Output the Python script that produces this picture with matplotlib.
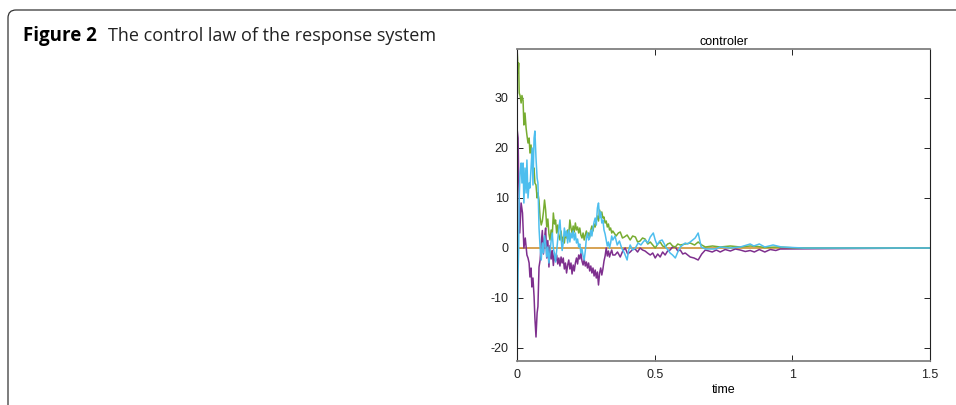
import matplotlib.pyplot as plt
from matplotlib.patches import FancyBboxPatch
from matplotlib.transforms import IdentityTransform

plt.rcParams['axes.unicode_minus'] = False

# zero lines (first three states overlap at 0)
t_zero = [0.0, 1.5]
u_zero = [0.0, 0.0]

# shared time grid for the noisy middle part
t_mid = [0.080, 0.084, 0.088, 0.092, 0.096, 0.100, 0.104, 0.108, 0.112, 0.116,
         0.120, 0.124, 0.128, 0.132, 0.136, 0.140, 0.144, 0.148, 0.152, 0.156,
         0.160, 0.164, 0.168, 0.172, 0.176, 0.180, 0.184, 0.188, 0.192, 0.196,
         0.200, 0.204, 0.208, 0.212, 0.216, 0.220, 0.224, 0.228, 0.232, 0.236,
         0.240, 0.244, 0.248, 0.252, 0.256, 0.260, 0.264, 0.268, 0.272, 0.276,
         0.280, 0.284, 0.288, 0.292, 0.296, 0.300, 0.304, 0.308, 0.312, 0.316,
         0.320, 0.324, 0.328, 0.332, 0.336, 0.340, 0.344, 0.348]

# purple controller
t_p_early = [0.000, 0.004, 0.006, 0.008, 0.010, 0.015, 0.020, 0.025, 0.030, 0.036,
             0.040, 0.044, 0.047, 0.051, 0.054, 0.058, 0.062, 0.065, 0.069, 0.073,
             0.076]
u_p_early = [24.0, 22.0, 14.0, 10.0, 3.0, 9.0, 7.0, 0.0, 2.0, -1.4,
             -2.0, -3.0, -5.8, -4.0, -7.8, -6.0, -9.7, -14.0, -17.8, -13.0,
             -11.7]
u_p_mid = [-3.8, -2.4, 1.0, 3.5, -1.2, 2.0, 4.0, -2.0, 1.5, -3.8,
           0.5, -2.2, -0.5, -3.5, -1.0, -2.6, -1.4, -3.2, -2.0, -3.6,
           -1.8, -3.0, -2.0, -4.2, -3.0, -5.0, -3.4, -2.4, -4.2, -3.0,
           -5.2, -3.4, -4.6, -3.0, -2.0, -3.2, -1.4, -2.2, -1.0, -2.6,
           -3.4, -2.2, -3.6, -2.8, -4.0, -3.0, -4.6, -3.6, -5.0, -4.0,
           -5.6, -4.4, -6.0, -4.8, -7.4, -5.0, -4.0, -5.4, -4.2, -2.6,
           -1.6, 0.0, -1.6, -0.6, -1.8, -1.0, -0.4, -1.4]
t_p_late = [0.356, 0.365, 0.375, 0.384, 0.393, 0.402, 0.411, 0.420, 0.429, 0.438,
            0.447, 0.456, 0.465, 0.474, 0.484, 0.493, 0.502, 0.511, 0.520, 0.529,
            0.538, 0.547, 0.556, 0.565, 0.575, 0.584, 0.593, 0.602, 0.611, 0.620,
            0.629, 0.643, 0.658, 0.671, 0.684, 0.697, 0.709, 0.724, 0.738, 0.756,
            0.775, 0.793, 0.811, 0.829, 0.847, 0.862, 0.880, 0.900, 0.920, 0.940,
            0.956, 1.500]
u_p_late = [-1.4, -0.8, -1.8, -0.6, 0.0, -1.2, -0.8, -0.3, -0.2, -0.8,
            0.0, -0.4, -0.6, -1.0, -1.4, -1.0, -2.0, -1.2, -1.8, -0.8,
            -1.4, -0.6, -0.4, 0.2, 0.2, -0.6, -0.4, -1.2, -1.0, -1.4,
            -1.8, -2.0, -2.4, -1.2, -0.4, -0.6, -0.8, -0.4, -0.8, -0.3,
            -0.6, -0.2, -0.4, -0.7, -0.5, -0.8, -0.3, -0.8, -0.3, -0.5,
            -0.2, 0.0]

# green controller
t_g_early = [0.000, 0.002, 0.004, 0.006, 0.008, 0.011, 0.015, 0.018, 0.022, 0.025,
             0.029, 0.033, 0.036, 0.040, 0.044, 0.047, 0.051, 0.055, 0.058, 0.062,
             0.065, 0.069, 0.073, 0.076]
u_g_early = [40.0, 38.0, 35.0, 37.0, 31.0, 30.5, 29.0, 30.5, 29.5, 24.6,
             27.0, 24.0, 22.6, 21.0, 22.0, 19.0, 20.6, 17.0, 15.0, 16.0,
             13.0, 12.6, 10.0, 11.0]
u_g_mid = [9.5, 6.0, 4.6, 5.4, 7.2, 9.6, 7.6, 4.2, 5.8, 2.8,
           1.6, 3.6, 2.4, 7.0, 4.8, 5.6, 3.0, 4.6, 2.4, 1.6,
           3.4, 1.2, 2.2, 1.0, 3.0, 2.0, 3.6, 2.6, 5.6, 4.0,
           3.0, 4.4, 3.2, 5.0, 3.6, 4.2, 3.0, 4.0, 2.6, 2.0,
           3.0, 1.6, 2.6, 3.4, 2.2, 3.0, 2.2, 3.6, 4.4, 3.4,
           4.8, 4.2, 5.6, 6.4, 5.4, 7.6, 6.6, 7.2, 6.0, 6.2,
           5.0, 5.4, 4.2, 4.8, 3.6, 4.0, 3.0, 3.4]
t_g_late = [0.360, 0.368, 0.375, 0.383, 0.390, 0.400, 0.411, 0.420, 0.430, 0.438,
            0.447, 0.456, 0.465, 0.475, 0.484, 0.493, 0.502, 0.511, 0.520, 0.529,
            0.538, 0.547, 0.556, 0.565, 0.575, 0.584, 0.593, 0.611, 0.629, 0.645,
            0.658, 0.671, 0.684, 0.710, 0.738, 0.775, 0.811, 0.847, 0.875, 0.900,
            0.950, 1.000, 1.050, 1.500]
u_g_late = [2.4, 3.0, 3.2, 2.0, 2.2, 2.6, 1.6, 2.4, 2.2, 1.2,
            1.4, 2.0, 1.8, 0.8, 1.2, 0.6, 0.0, 0.8, 1.2, 0.4,
            0.2, 0.8, 1.0, 0.4, 0.2, 0.8, 0.6, 0.8, 1.0, 0.6,
            1.2, 0.6, 0.2, 0.4, 0.2, 0.4, 0.2, 0.4, 0.3, 0.1,
            0.2, 0.05, 0.0, 0.0]

# cyan controller
t_c_early = [0.000, 0.002, 0.004, 0.006, 0.008, 0.011, 0.015, 0.018, 0.022, 0.025,
             0.029, 0.033, 0.036, 0.040, 0.044, 0.047, 0.051, 0.055, 0.058, 0.062,
             0.065, 0.069, 0.073, 0.076]
u_c_early = [-22.6, -15.0, -5.0, 0.0, 10.0, 15.0, 17.0, 13.0, 17.0, 9.0,
             16.0, 11.0, 17.6, 10.0, 13.0, 12.0, 16.0, 20.0, 12.6, 22.0,
             23.4, 18.0, 14.0, 13.0]
u_c_mid = [4.0, 0.0, -2.4, 1.0, -1.0, 2.5, 1.0, -1.8, 0.2, -3.0,
           -0.8, 1.5, 3.0, 0.0, -1.2, -2.8, -0.5, 2.0, 4.0, 5.6,
           2.0, -0.5, 1.0, 4.0, 2.4, 3.4, 1.0, 3.6, 1.2, 3.0,
           2.0, 3.4, 1.6, 3.0, 1.0, 1.8, 0.2, 0.8, -1.0, -0.2,
           -1.6, -2.4, -0.6, 2.0, 3.0, 1.6, 2.0, 3.6, 2.4, 4.0,
           5.2, 6.0, 4.6, 8.0, 9.0, 6.0, 7.2, 5.0, 5.6, 3.6,
           2.8, 1.6, 0.4, 1.2, 0.0, 1.0, 2.4, 1.6]
t_c_late = [0.356, 0.364, 0.372, 0.380, 0.390, 0.400, 0.405, 0.411, 0.420, 0.430,
            0.440, 0.450, 0.458, 0.465, 0.475, 0.484, 0.495, 0.502, 0.509, 0.518,
            0.527, 0.535, 0.542, 0.549, 0.556, 0.565, 0.575, 0.584, 0.593, 0.602,
            0.611, 0.620, 0.629, 0.638, 0.647, 0.658, 0.669, 0.684, 0.720, 0.738,
            0.775, 0.811, 0.847, 0.860, 0.880, 0.900, 0.930, 0.960, 1.000, 1.040,
            1.500]
u_c_late = [2.4, 0.6, 1.4, 0.0, -1.0, -2.4, -0.6, 0.6, -0.4, 0.0,
            1.0, 0.6, 1.2, 1.6, 1.0, 2.2, 3.0, 1.6, 0.6, 1.4,
            1.6, 0.8, 0.0, -0.4, -1.0, -1.4, -2.0, -0.8, 0.2, 0.6,
            1.0, 0.8, 1.2, 1.6, 2.0, 3.0, 0.2, -0.2, -0.2, 0.2,
            0.0, 0.2, 0.8, 0.4, 0.8, 0.2, 0.6, 0.2, 0.1, 0.0,
            0.0]

xticks = [0, 0.5, 1, 1.5]
xticklabels = ['0', '0.5', '1', '1.5']
yticks = [-20, -10, 0, 10, 20, 30]

fig = plt.figure(figsize=(9.56, 4.05), dpi=100)

# caption frame in pixel coords: only top and left edges show
frame = FancyBboxPatch((8, -40), 1000, 435, boxstyle="round,pad=0,rounding_size=8",
                       transform=IdentityTransform(), fill=False,
                       edgecolor='#333333', linewidth=0.9)
fig.add_artist(frame)
fig.text(23 / 956, 1 - 36 / 405, "Figure 2", fontsize=13.5, fontweight='bold',
         family='Open Sans', va='center')
fig.text(108 / 956, 1 - 36 / 405, "The control law of the response system",
         fontsize=13.0, family='Open Sans', va='center', color='#222222')

ax = fig.add_axes([517 / 956, 1 - 361 / 405, 413 / 956, 312 / 405])
ax.plot(t_zero, u_zero, color='#d39b45', lw=1.3)
ax.plot(t_p_early + t_mid + t_p_late, u_p_early + u_p_mid + u_p_late, color='#7e2f8e', lw=1.1)
ax.plot(t_g_early + t_mid + t_g_late, u_g_early + u_g_mid + u_g_late, color='#77ac30', lw=1.1)
ax.plot(t_c_early + t_mid + t_c_late, u_c_early + u_c_mid + u_c_late, color='#4dbeee', lw=1.1)

ax.set_xlim(0, 1.5)
ax.set_ylim(-22.6, 39.8)
ax.set_xticks(xticks)
ax.set_xticklabels(xticklabels)
ax.set_yticks(yticks)
ax.tick_params(direction='in', length=4, width=0.7, top=True, right=True,
               labelsize=9, colors='#222222', pad=6)
for lbl in ax.get_xticklabels() + ax.get_yticklabels():
    lbl.set_family('Liberation Sans')
for s in ['left', 'right']:
    ax.spines[s].set_color('#222222')
    ax.spines[s].set_linewidth(0.8)
for s in ['top', 'bottom']:
    ax.spines[s].set_color('#808080')
    ax.spines[s].set_linewidth(1.3)
ax.set_title('controler', fontsize=9, pad=3, family='Liberation Sans')
ax.set_xlabel('time', fontsize=9, labelpad=2, family='Liberation Sans')

fig.savefig('out.png', dpi=100)
